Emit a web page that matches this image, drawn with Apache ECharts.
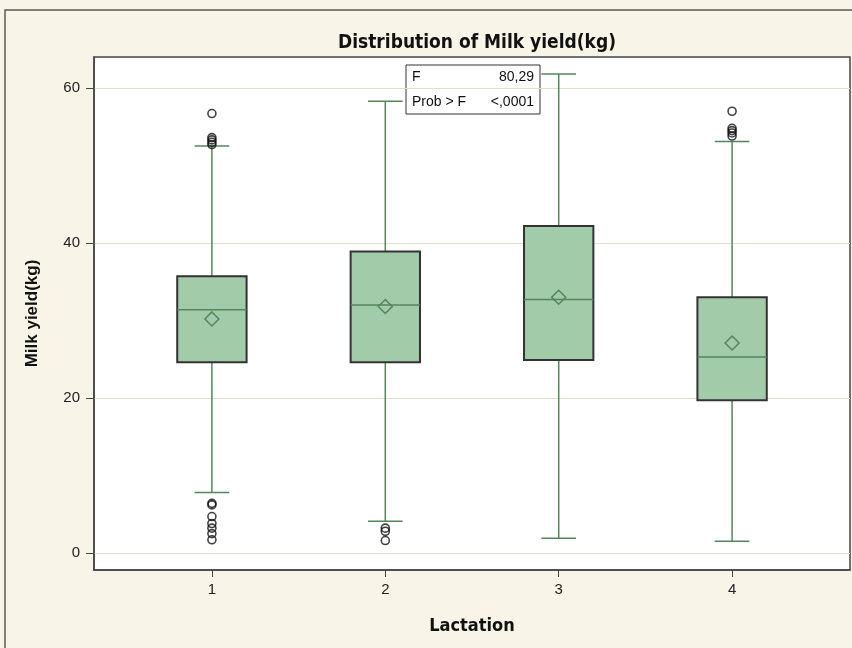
<!DOCTYPE html>
<html>
<head>
<meta charset="utf-8">
<script src="https://cdn.jsdelivr.net/npm/echarts@6/dist/echarts.min.js"></script>
<style>
  html, body { margin: 0; padding: 0; background: #f8f4e8; }
  #chart { width: 852px; height: 648px; }
</style>
</head>
<body>
<div id="chart"></div>
<script>
// ---- data ----
const categories   = [1, 2, 3, 4];
const whiskerLow   = [7.8, 4.1, 1.9, 1.5];
const q1           = [24.6, 24.6, 24.9, 19.7];
const medians      = [31.4, 32.0, 32.7, 25.3];
const q3           = [35.7, 38.9, 42.2, 33.0];
const whiskerHigh  = [52.5, 58.3, 61.8, 53.1];
const means        = [30.2, 31.8, 33.0, 27.1];
const outliers1    = [56.7, 53.6, 53.3, 53.0, 52.7, 6.4, 6.2, 4.7, 3.8, 3.2, 2.5, 1.7];
const outliers2    = [3.2, 2.8, 1.6];
const outliers3    = [];
const outliers4    = [57.0, 54.8, 54.5, 54.2, 53.8];
const yTicks       = [0, 20, 40, 60];
const statLabels   = ['F', 'Prob > F'];
const statValues   = ['80,29', '<,0001'];
const titleText    = 'Distribution of Milk yield(kg)';
const xName        = 'Lactation';
const yName        = 'Milk yield(kg)';

const boxData = categories.map((c, i) => [c, whiskerLow[i], q1[i], medians[i], q3[i], whiskerHigh[i], means[i]]);
const outlierData = [];
[outliers1, outliers2, outliers3, outliers4].forEach((arr, i) => {
  arr.forEach(v => outlierData.push([categories[i], v]));
});

const GREEN_LINE = '#55855b';
const BOX_FILL = '#a2cba9';
const BOX_EDGE = '#333333';

const chart = echarts.init(document.getElementById('chart'));

chart.setOption({
  backgroundColor: '#f8f4e8',
  animation: false,
  title: {
    text: titleText,
    left: 472, top: 29, textAlign: 'center',
    textStyle: { fontFamily: 'DejaVu Sans Condensed', fontWeight: 'bold', fontSize: 19, color: '#111' }
  },
  graphic: [
    { type: 'rect', shape: { x: 5, y: 10, width: 900, height: 700 },
      style: { fill: 'none', stroke: '#5a5a5a', lineWidth: 1.5 }, z: -1, silent: true },
    { type: 'group', x: 406, y: 65, z: 100, children: [
      { type: 'rect', shape: { x: 0, y: 0, width: 134, height: 49 },
        style: { fill: '#ffffff', stroke: '#333', lineWidth: 1 } },
      { type: 'text', x: 6, y: 12, style: { text: statLabels[0], font: '14px "Liberation Sans"', fill: '#111', verticalAlign: 'middle' } },
      { type: 'text', x: 128, y: 12, style: { text: statValues[0], font: '14px "Liberation Sans"', fill: '#111', align: 'right', verticalAlign: 'middle' } },
      { type: 'text', x: 6, y: 37, style: { text: statLabels[1], font: '14px "Liberation Sans"', fill: '#111', verticalAlign: 'middle' } },
      { type: 'text', x: 128, y: 37, style: { text: statValues[1], font: '14px "Liberation Sans"', fill: '#111', align: 'right', verticalAlign: 'middle' } }
    ]}
  ],
  grid: {
    left: 94, right: 2, top: 57, bottom: 78,
    show: true, backgroundColor: '#ffffff', borderColor: '#444', borderWidth: 1.5
  },
  xAxis: {
    type: 'value', min: 0.32, max: 4.68,
    name: xName, nameLocation: 'middle', nameGap: 47,
    nameTextStyle: { fontFamily: 'DejaVu Sans Condensed', fontWeight: 'bold', fontSize: 18, color: '#111' },
    axisLine: { show: true, onZero: false, lineStyle: { color: '#444', width: 1.5 } },
    axisTick: { show: true, length: 7, customValues: categories, lineStyle: { color: '#444' } },
    axisLabel: { customValues: categories, margin: 12, fontFamily: 'Liberation Sans', fontSize: 15, color: '#222' },
    splitLine: { show: false }
  },
  yAxis: {
    type: 'value', min: -2.2, max: 64,
    name: yName, nameLocation: 'middle', nameGap: 53,
    nameTextStyle: { fontFamily: 'Liberation Sans', fontWeight: 'bold', fontSize: 17, color: '#111' },
    axisLine: { show: true, onZero: false, lineStyle: { color: '#444', width: 1.5 } },
    axisTick: { show: true, length: 8, customValues: yTicks, lineStyle: { color: '#444' } },
    axisLabel: { customValues: yTicks, margin: 14, fontFamily: 'Liberation Sans', fontSize: 15, color: '#222' },
    splitLine: { show: true, lineStyle: { color: '#e2e0cc', width: 1 } }
  },
  series: [
    {
      type: 'custom',
      data: boxData,
      encode: { x: 0, y: [1, 2, 3, 4, 5, 6] },
      z: 3,
      renderItem: function (params, api) {
        const x = api.value(0);
        const lo = api.coord([x, api.value(1)]);
        const b1 = api.coord([x, api.value(2)]);
        const md = api.coord([x, api.value(3)]);
        const b3 = api.coord([x, api.value(4)]);
        const hi = api.coord([x, api.value(5)]);
        const mn = api.coord([x, api.value(6)]);
        const halfBox = api.coord([x + 0.2, 0])[0] - lo[0];
        const halfCap = api.coord([x + 0.1, 0])[0] - lo[0];
        const cx = lo[0];
        const ls = { stroke: GREEN_LINE, lineWidth: 1.5 };
        const d = 7;
        return {
          type: 'group',
          children: [
            { type: 'line', shape: { x1: cx, y1: b3[1], x2: cx, y2: hi[1] }, style: ls },
            { type: 'line', shape: { x1: cx, y1: b1[1], x2: cx, y2: lo[1] }, style: ls },
            { type: 'line', shape: { x1: cx - halfCap, y1: hi[1], x2: cx + halfCap, y2: hi[1] }, style: ls },
            { type: 'line', shape: { x1: cx - halfCap, y1: lo[1], x2: cx + halfCap, y2: lo[1] }, style: ls },
            { type: 'rect', shape: { x: cx - halfBox, y: b3[1], width: halfBox * 2, height: b1[1] - b3[1] },
              style: { fill: BOX_FILL, stroke: BOX_EDGE, lineWidth: 2 } },
            { type: 'line', shape: { x1: cx - halfBox, y1: md[1], x2: cx + halfBox, y2: md[1] }, style: ls },
            { type: 'polygon', shape: { points: [[cx, mn[1] - d], [cx + d, mn[1]], [cx, mn[1] + d], [cx - d, mn[1]]] },
              style: { fill: 'none', stroke: GREEN_LINE, lineWidth: 1.5 } }
          ]
        };
      }
    },
    {
      type: 'scatter',
      data: outlierData,
      symbol: 'circle',
      symbolSize: 8,
      z: 4,
      itemStyle: { color: 'rgba(255,255,255,0)', borderColor: '#111', borderWidth: 1.6 }
    }
  ]
});
</script>
</body>
</html>
